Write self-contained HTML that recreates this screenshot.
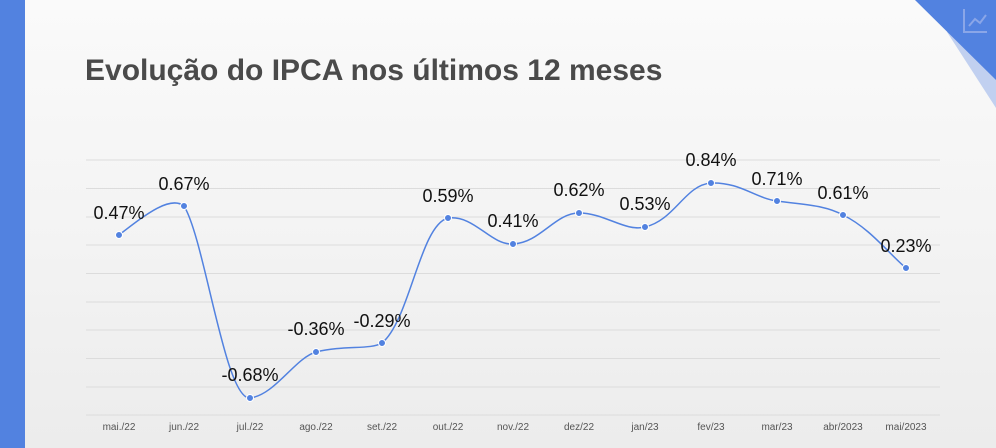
<!DOCTYPE html>
<html><head><meta charset="utf-8"><style>
body{margin:0;width:996px;height:448px;overflow:hidden;background:linear-gradient(180deg,#fafafa 0%,#f3f3f3 55%,#ececec 100%);font-family:"Liberation Sans",Arial,sans-serif;position:relative}
</style></head><body>
<svg width="996" height="448" style="position:absolute;left:0;top:0">
<rect x="0" y="0" width="25" height="448" fill="#5282e0"/>
<polygon points="996,0 996,108 947,32" fill="#c1d0f0"/>
<polygon points="915,0 996,0 996,80" fill="#5282e0"/>
<g stroke="#8aa6e8" stroke-width="2" fill="none"><path d="M964,9V32H987"/><path d="M969,26l6,-7 5,4 6,-8"/></g>
<text x="85" y="80" font-size="30" font-weight="bold" fill="#4a4a4a">Evolução do IPCA nos últimos 12 meses</text>
<g stroke="#dcdcdc" stroke-width="1">
<line x1="86" x2="940" y1="160" y2="160"/><line x1="86" x2="940" y1="188.5" y2="188.5"/><line x1="86" x2="940" y1="217" y2="217"/><line x1="86" x2="940" y1="245" y2="245"/><line x1="86" x2="940" y1="273.5" y2="273.5"/><line x1="86" x2="940" y1="302" y2="302"/><line x1="86" x2="940" y1="330" y2="330"/><line x1="86" x2="940" y1="358.5" y2="358.5"/><line x1="86" x2="940" y1="387" y2="387"/><line x1="86" x2="940" y1="415" y2="415"/>
</g>
<path d="M119,235 C145,215 170,195 184,206 C205,240 225,400 250,398 C275,395 295,358 316,352 C345,345 370,350 382,343 C410,320 420,225 448,218 C475,215 490,245 513,244 C540,243 555,213 579,213 C605,213 625,232 645,227 C675,220 685,185 711,183 C740,182 755,198 777,201 C805,205 825,205 843,215 C870,228 890,255 906,268" fill="none" stroke="#5282e0" stroke-width="1.5"/>
<g fill="#5282e0" stroke="#fff" stroke-width="1">
<circle cx="119" cy="235" r="3.5"/><circle cx="184" cy="206" r="3.5"/><circle cx="250" cy="398" r="3.5"/><circle cx="316" cy="352" r="3.5"/><circle cx="382" cy="343" r="3.5"/><circle cx="448" cy="218" r="3.5"/><circle cx="513" cy="244" r="3.5"/><circle cx="579" cy="213" r="3.5"/><circle cx="645" cy="227" r="3.5"/><circle cx="711" cy="183" r="3.5"/><circle cx="777" cy="201" r="3.5"/><circle cx="843" cy="215" r="3.5"/><circle cx="906" cy="268" r="3.5"/>
</g>
<g font-size="18" fill="#111" text-anchor="middle">
<text x="119" y="219">0.47%</text><text x="184" y="190">0.67%</text><text x="250" y="381">-0.68%</text><text x="316" y="335">-0.36%</text><text x="382" y="327">-0.29%</text><text x="448" y="202">0.59%</text><text x="513" y="227">0.41%</text><text x="579" y="196">0.62%</text><text x="645" y="210">0.53%</text><text x="711" y="166">0.84%</text><text x="777" y="185">0.71%</text><text x="843" y="199">0.61%</text><text x="906" y="252">0.23%</text>
</g>
<g font-size="10" fill="#555" text-anchor="middle">
<text x="119" y="430">mai./22</text><text x="184" y="430">jun./22</text><text x="250" y="430">jul./22</text><text x="316" y="430">ago./22</text><text x="382" y="430">set./22</text><text x="448" y="430">out./22</text><text x="513" y="430">nov./22</text><text x="579" y="430">dez/22</text><text x="645" y="430">jan/23</text><text x="711" y="430">fev/23</text><text x="777" y="430">mar/23</text><text x="843" y="430">abr/2023</text><text x="906" y="430">mai/2023</text>
</g>
</svg>
</body></html>
